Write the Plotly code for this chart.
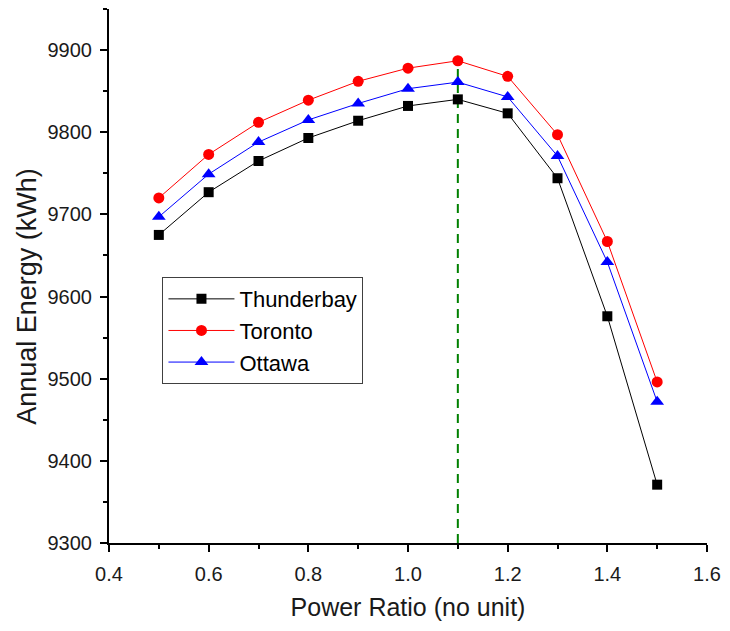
import plotly.graph_objects as go

# Power ratio (DC/AC) for each simulated case
power_ratio = [0.5, 0.6, 0.7, 0.8, 0.9, 1.0, 1.1, 1.2, 1.3, 1.4, 1.5]

# Annual energy yield per city (kWh)
thunderbay = [9675, 9727, 9765, 9793, 9814, 9832, 9840, 9823, 9744, 9576, 9371]
toronto = [9720, 9773, 9812, 9839, 9862, 9878, 9887, 9868, 9797, 9667, 9496]
ottawa = [9697, 9749, 9788, 9815, 9835, 9853, 9861, 9843, 9771, 9642, 9472]

series_names = ["Thunderbay", "Toronto", "Ottawa"]

FONT = "Liberation Sans, Arial, sans-serif"
TEXT = "#1a1a1a"

fig = go.Figure()

styles = [
    (thunderbay, "#000000", "square", 10),
    (toronto, "#ff0000", "circle", 11),
    (ottawa, "#0000ff", "triangle-up", 12),
]
for name, (vals, color, symbol, size) in zip(series_names, styles):
    fig.add_trace(go.Scatter(
        x=power_ratio, y=vals, name=name, mode="lines+markers",
        line=dict(color=color, width=1),
        marker=dict(symbol=symbol, size=size, color=color, line=dict(width=0)),
        legendgroup=name,
    ))

# Vertical marker at the optimum power ratio
peak_idx = max(range(len(toronto)), key=lambda i: toronto[i])
fig.add_shape(
    type="line", xref="x", yref="y",
    x0=power_ratio[peak_idx], x1=power_ratio[peak_idx],
    y0=9300, y1=toronto[peak_idx],
    line=dict(color="#008000", width=2, dash="9px,6px"),
    layer="below",
)

axis_common = dict(
    showgrid=False, zeroline=False, showline=True,
    linecolor="#000000", linewidth=2,
    ticks="outside", ticklen=7, tickwidth=2, tickcolor="#000000",
    tickfont=dict(family=FONT, size=20, color=TEXT),
    mirror=False,
)

fig.update_xaxes(
    range=[0.4, 1.6], tickmode="linear", tick0=0.4, dtick=0.2, tickformat=".1f",
    minor=dict(ticks="outside", ticklen=4, tickwidth=2, tickcolor="#000000", dtick=0.1),
    ticklabelstandoff=5,
    title=dict(text="Power Ratio (no unit)", font=dict(family=FONT, size=25, color=TEXT), standoff=14),
    **axis_common,
)
fig.update_yaxes(
    range=[9300, 9950], tickmode="linear", tick0=9300, dtick=100, tickformat="d",
    minor=dict(ticks="outside", ticklen=4, tickwidth=2, tickcolor="#000000", dtick=50),
    ticklabelstandoff=4,
    **axis_common,
)

# Y-axis title, placed as a rotated annotation
fig.add_annotation(
    text="Annual Energy (kWh)", textangle=-90,
    xref="paper", yref="paper", x=-0.1374, y=0.4625,
    xanchor="center", yanchor="middle", showarrow=False,
    font=dict(family=FONT, size=27, color=TEXT),
)

fig.update_layout(
    width=730, height=631,
    margin=dict(l=109, r=17, t=9, b=88),
    paper_bgcolor="white", plot_bgcolor="white",
    showlegend=True,
    legend=dict(
        x=0.0894, y=0.498, xanchor="left", yanchor="top",
        bgcolor="white", bordercolor="#404040", borderwidth=1,
        font=dict(family=FONT, size=22, color="#000000"),
        tracegroupgap=0, itemwidth=66,
    ),
)

fig.write_html("out.html")
